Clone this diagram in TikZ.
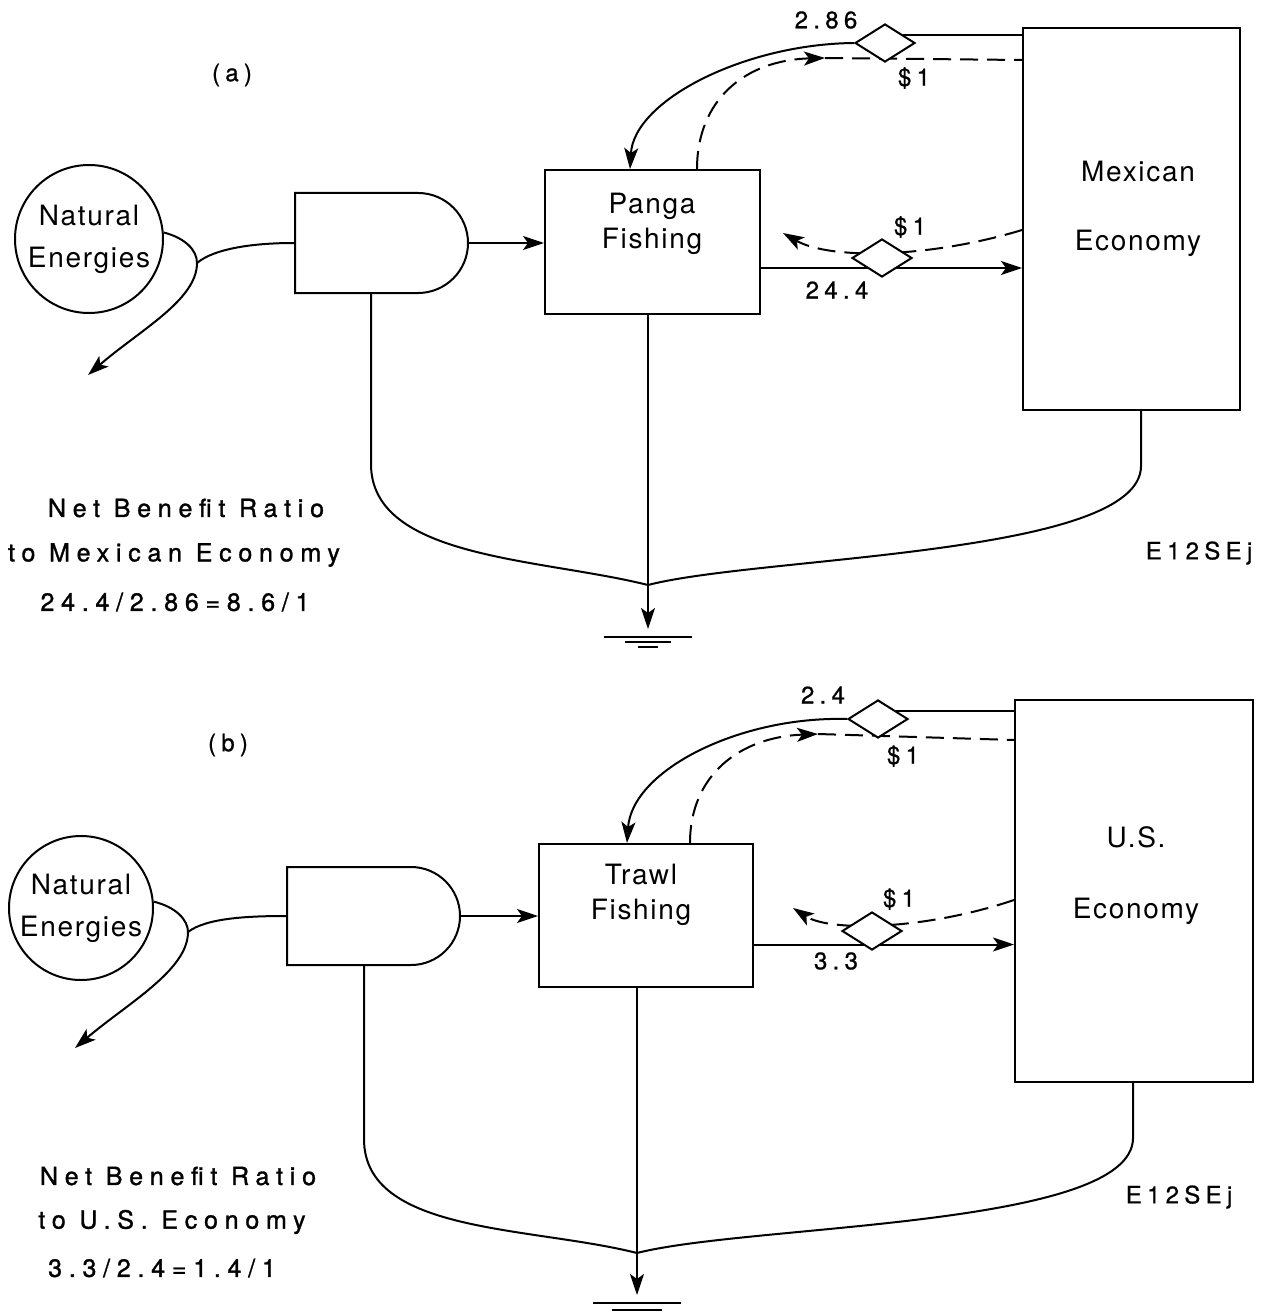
\documentclass[tikz,border=0pt]{standalone}
\usepackage{fontspec}
\setmainfont{TeX Gyre Heros}
\newfontfamily\boxfont[LetterSpace=6]{TeX Gyre Heros}
\newfontfamily\numfont[LetterSpace=22, FakeBold=0.8]{TeX Gyre Heros}
\newfontfamily\notefont[LetterSpace=27, FakeBold=1.2]{TeX Gyre Heros}
\usetikzlibrary{arrows.meta, calc, shapes.geometric, shapes.misc}

\begin{document}
\begin{tikzpicture}[
    x=0.5pt,
    y=-0.5pt,
    >={Stealth[length=10.5pt, width=7pt, inset=2.5pt]},
    line width=1pt,
    source/.style={circle, draw, inner sep=0pt, align=center,
        font=\boxfont\fontsize{14}{21}\selectfont},
    tank/.style={rounded rectangle, rounded rectangle west arc=none, draw, inner sep=0pt},
    unit/.style={rectangle, draw, inner sep=0pt},
    deal/.style={diamond, draw, fill=white, inner sep=0pt,
        minimum width=30pt, minimum height=19pt},
    money/.style={dash pattern=on 9pt off 4.5pt},
    lbl/.style={font=\boxfont\fontsize{14}{17.5}\selectfont, align=center},
    num/.style={font=\numfont\fontsize{12}{14}\selectfont, inner sep=0pt},
    note/.style={font=\notefont\fontsize{12.5}{15}\selectfont, inner sep=0pt}
]
    \useasboundingbox (0,0) rectangle (1269,1316);

    % ---------------- panel (a) ----------------
    \node[num] (tagA) at (232,75) {(a)};
    \node[source, minimum size=74pt] (natA) at (89,239) {Natural\\Energies};
    \node[tank, minimum width=86.5pt, minimum height=50pt] (tankA) at (381.5,243) {};
    \node[unit, minimum width=107.5pt, minimum height=72pt] (pangaA) at (652.5,242) {};
    \node[lbl] (pangaAtxt) at (652,224) {Panga\\Fishing};
    \node[unit, minimum width=108.5pt, minimum height=191pt] (mexA) at (1131.5,219) {};
    \node[lbl] (mexAtxt) at (1138,209) {Mexican\\[17pt]Economy};

    \coordinate (splitA) at (197,263);
    \coordinate (outA) at (88,375);
    \coordinate (mA2) at (783,233);
    \coordinate (mrgA) at (648,585);
    \coordinate (gndA) at (648,629);

    \draw (natA.5) .. controls (185,238) and (197,250) .. (splitA)
        .. controls (215,248) and (255,243) .. (tankA.west);
    \draw[->] (splitA) .. controls (197,300) and (140,330) .. (outA);
    \draw[->] (tankA.east) -- (pangaA.west |- tankA.east);

    % money loops
    \draw[money, ->] ($(pangaA.north)+(44.5,0)$) .. controls (697,100) and (745,60) .. (825,58)
        coordinate (mA1);
    \draw[money] (mA1) -- ($(mexA.north west)+(0,33)$);
    \draw[money, ->] ($(mexA.west)+(0,11)$) .. controls (930,258) and (830,260) .. (mA2);
    \draw[->] ($(pangaA.east)+(0,26)$) -- ($(mexA.west)+(0,49)$);

    \node[deal] (dA1) at (885,43) {};
    \node[deal] (dA2) at (882,258) {};
    \draw (dA1.25 -| mexA.west) -- (dA1.25);
    \draw[->] (dA1.west) .. controls (745,44) and (634,100) .. ($(pangaA.north)+(-22.5,0)$);

    \node[num] (priceA1) at (826,20) {2.86};
    \node[num] (dollarA1) at (914,78) {\$1};
    \node[num] (dollarA2) at (910,227) {\$1};
    \node[num] (yieldA) at (837,290) {24.4};

    % sinks
    \draw ($(tankA.south)+(-10.5,0)$) -- ++(0,170) .. controls +(0,95) and (540,558) .. (mrgA);
    \draw ($(mexA.south)+(9.5,0)$) -- ++(0,55) .. controls +(0,90) and (760,556) .. (mrgA);
    \draw[->] (pangaA.south -| gndA) -- (gndA);
    \draw ($(gndA)+(-44,8)$) -- ++(88,0);
    \draw ($(gndA)+(-23,13)$) -- ++(46,0);
    \draw ($(gndA)+(-10,18)$) -- ++(20,0);

    \node[note] (ratioA1) at (186,508) {Net Benefit Ratio};
    \node[note] (ratioA2) at (174,555) {to Mexican Economy};
    \node[note] (ratioA3) at (175,602) {24.4/2.86=8.6/1};
    \node[num] (codeA) at (1199,553) {E12SEj};

    % ---------------- panel (b) ----------------
    \node[num] (tagB) at (228,745) {(b)};
    \node[source, minimum size=72pt] (natB) at (81,908) {Natural\\Energies};
    \node[tank, minimum width=86.5pt, minimum height=49pt] (tankB) at (373.5,916) {};
    \node[unit, minimum width=107pt, minimum height=71.5pt] (trawlB) at (646,915.5) {};
    \node[lbl] (trawlBtxt) at (641,895) {Trawl\\Fishing};
    \node[unit, minimum width=119pt, minimum height=191pt] (usB) at (1134,891) {};
    \node[lbl] (usBtxt) at (1136,876) {U.S.\\[18pt]Economy};

    \coordinate (splitB) at (188,932);
    \coordinate (outB) at (75,1048);
    \coordinate (mB2) at (793,908);
    \coordinate (mrgB) at (637,1253);
    \coordinate (gndB) at (637,1295);

    \draw (natB.5) .. controls (176,907) and (188,920) .. (splitB)
        .. controls (206,918) and (248,916) .. (tankB.west);
    \draw[->] (splitB) .. controls (188,970) and (128,1003) .. (outB);
    \draw[->] (tankB.east) -- (trawlB.west |- tankB.east);

    % money loops
    \draw[money, ->] ($(trawlB.north)+(44,0)$) .. controls (690,775) and (740,737) .. (818,734)
        coordinate (mB1);
    \draw[money] (mB1) -- ($(usB.north west)+(0,41)$);
    \draw[money, ->] ($(usB.west)+(0,9)$) .. controls (925,930) and (830,932) .. (mB2);
    \draw[->] ($(trawlB.east)+(0,29)$) -- ($(usB.west)+(0,53.5)$);

    \node[deal] (dB1) at (878,719) {};
    \node[deal] (dB2) at (872,931) {};
    \draw (dB1.25 -| usB.west) -- (dB1.25);
    \draw[->] (dB1.west) .. controls (740,716) and (632,770) .. ($(trawlB.north)+(-19,0)$);

    \node[num] (priceB1) at (823,695) {2.4};
    \node[num] (dollarB1) at (903,756) {\$1};
    \node[num] (dollarB2) at (899,899) {\$1};
    \node[num] (yieldB) at (836,961) {3.3};

    % sinks
    \draw ($(tankB.south)+(-9.5,0)$) -- ++(0,173) .. controls +(0,95) and (530,1226) .. (mrgB);
    \draw ($(usB.south)+(-1,0)$) -- ++(0,55) .. controls +(0,90) and (750,1224) .. (mrgB);
    \draw[->] (trawlB.south -| gndB) -- (gndB);
    \draw ($(gndB)+(-44,8)$) -- ++(88,0);
    \draw ($(gndB)+(-25,15)$) -- ++(50,0);

    \node[note] (ratioB1) at (178,1176) {Net Benefit Ratio};
    \node[note] (ratioB2) at (172,1222) {to U.S. Economy};
    \node[note] (ratioB3) at (162,1268) {3.3/2.4=1.4/1};
    \node[num] (codeB) at (1179,1197) {E12SEj};
\end{tikzpicture}
\end{document}
